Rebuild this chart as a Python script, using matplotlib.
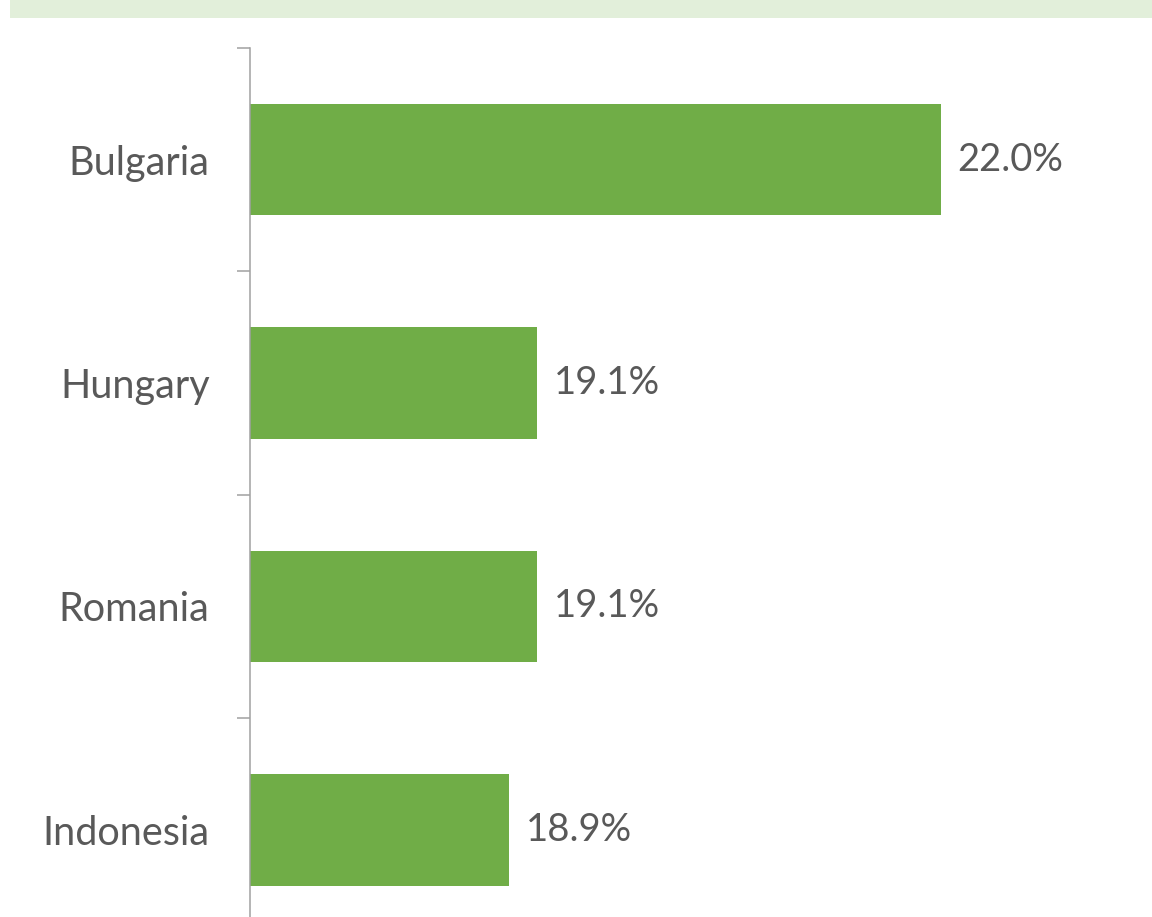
import matplotlib.pyplot as plt
from matplotlib.patches import Rectangle
from matplotlib.ticker import FixedLocator

# dados
paises = ['Bulgaria', 'Hungary', 'Romania', 'Indonesia']
valores = [22.0, 19.1, 19.1, 18.9]

verde = '#70AD47'
cinza_texto = '#595959'
cinza_eixo = '#A0A0A0'

fig = plt.figure(figsize=(11.52, 9.17), dpi=100)

# faixa verde clara no topo
fig.patches.append(Rectangle((10 / 1152, 1 - 18 / 917), 1, 18 / 917,
                             transform=fig.transFigure, facecolor='#E2EFDA',
                             edgecolor='none', zorder=0))

ax = fig.add_axes([250 / 1152, -0.0267, 902 / 1152, 0.9744])
pos = list(range(len(paises)))
barras = ax.barh(pos, valores, height=0.5, color=verde)
ax.set_xlim(17.038, 23.518)
ax.set_ylim(len(paises) - 0.5, -0.5)

ax.bar_label(barras, labels=[f'{v:.1f}%' for v in valores], padding=12,
             fontsize=27.5, color=cinza_texto, family='Lato')

ax.set_yticks(pos)
ax.set_yticklabels(paises, fontsize=28.5, color=cinza_texto, family='Lato')
ax.yaxis.set_minor_locator(FixedLocator([p - 0.5 for p in pos] + [len(paises) - 0.5]))
ax.tick_params(axis='y', which='major', length=0, pad=29)
ax.tick_params(axis='y', which='minor', length=9.4, width=1.1, color=cinza_eixo)
ax.set_xticks([])

for lado in ['top', 'right', 'bottom']:
    ax.spines[lado].set_visible(False)
ax.spines['left'].set_color(cinza_eixo)
ax.spines['left'].set_linewidth(1.1)

plt.savefig('out.png', dpi=100)
